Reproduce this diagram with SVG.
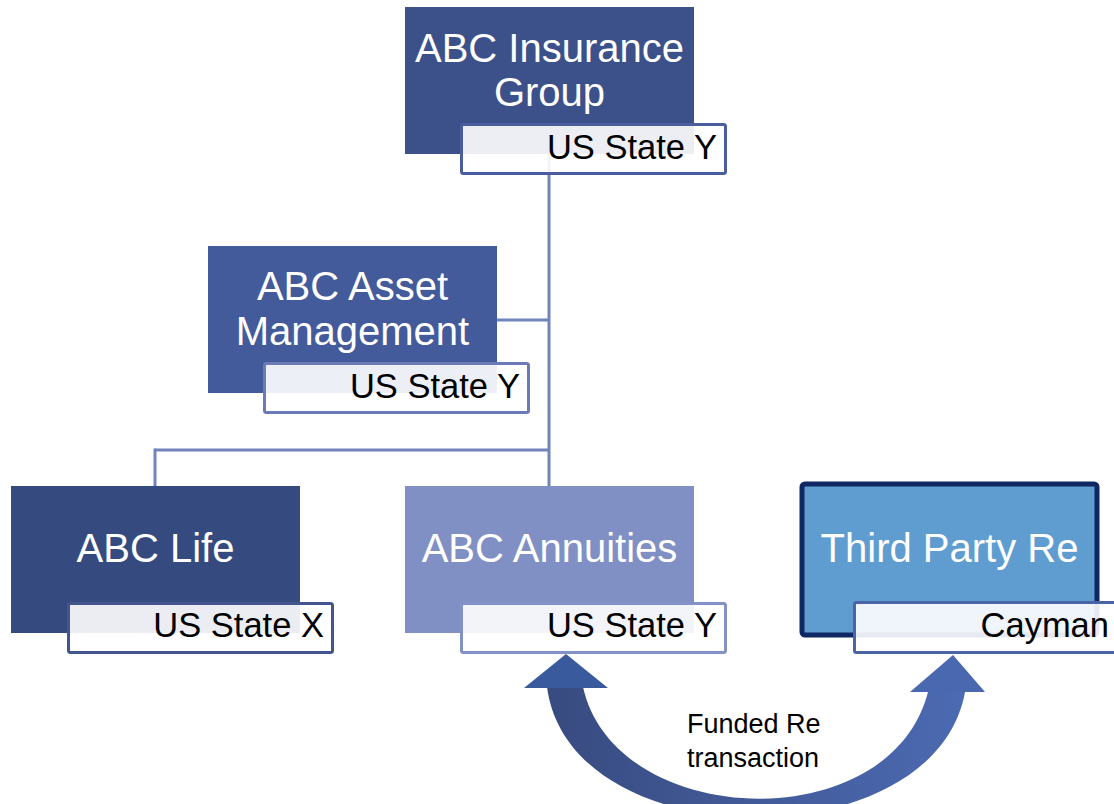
<svg xmlns="http://www.w3.org/2000/svg" width="1114" height="804" viewBox="0 0 1114 804">
<style>
.title{font-family:"Liberation Sans",Arial,sans-serif;font-size:40px;fill:#ffffff;text-anchor:middle}
.sub{font-family:"Liberation Sans",Arial,sans-serif;font-size:34.5px;fill:#000000;text-anchor:end}
.lbl{fill:#ffffff;fill-opacity:0.9;stroke-width:3}
.conn{stroke:#7383BB;stroke-width:3;fill:none}
.note{font-family:"Liberation Sans",Arial,sans-serif;font-size:27px;fill:#000000}
</style>
<defs>
<linearGradient id="arc" x1="0" y1="0" x2="1" y2="0">
<stop offset="0" stop-color="#384B80"/>
<stop offset="1" stop-color="#4C6AB2"/>
</linearGradient>
</defs>
<g id="connectors">
<line class="conn" x1="549" y1="154" x2="549" y2="486"/>
<line class="conn" x1="497" y1="320" x2="549" y2="320"/>
<line class="conn" x1="155" y1="450" x2="550" y2="450"/>
<line class="conn" x1="155" y1="448.5" x2="155" y2="486"/>
</g>
<g id="funded-re">
<path d="M 547 687 C 570 860, 935 860, 965 692 L 928 692 C 890 840, 615 830, 583 687 Z" fill="url(#arc)"/>
<polygon points="566,654 524,688 608,688" fill="#395A9C"/>
<polygon points="953,655 910,692 985,692" fill="#4A68B0"/>
<text class="note" x="687" y="733">Funded Re</text>
<text class="note" x="687" y="767">transaction</text>
</g>
<g id="abc-insurance-group">
<rect x="405" y="7" width="289" height="147" fill="#3C5189"/>
<rect class="lbl" x="461.5" y="124.5" width="264" height="49" rx="2" stroke="#4A5E9F"/>
<text class="title" x="549.5" y="62">ABC Insurance</text>
<text class="title" x="549.5" y="106">Group</text>
<text class="sub" x="717" y="159">US State Y</text>
</g>
<g id="abc-asset-management">
<rect x="208" y="246" width="289" height="147" fill="#435A9B"/>
<rect class="lbl" x="264.5" y="363.5" width="264" height="49" rx="2" stroke="#6A7BB8"/>
<text class="title" x="352.5" y="300">ABC Asset</text>
<text class="title" x="352.5" y="345">Management</text>
<text class="sub" x="520" y="398">US State Y</text>
</g>
<g id="abc-life">
<rect x="11" y="486" width="289" height="147" fill="#354A7F"/>
<rect class="lbl" x="68.5" y="603.5" width="264" height="49" rx="2" stroke="#43558E"/>
<text class="title" x="155.5" y="562">ABC Life</text>
<text class="sub" x="324" y="637">US State X</text>
</g>
<g id="abc-annuities">
<rect x="405" y="486" width="289" height="147" fill="#8190C4"/>
<rect class="lbl" x="461.5" y="603.5" width="264" height="49" rx="2" stroke="#8291C6"/>
<text class="title" x="549.5" y="562">ABC Annuities</text>
<text class="sub" x="717" y="637">US State Y</text>
</g>
<g id="third-party-re">
<rect x="802" y="484" width="295" height="151" rx="3" fill="#5F9DD1" stroke="#0F2763" stroke-width="5"/>
<rect class="lbl" x="854.5" y="602.5" width="270" height="50" rx="2" stroke="#4A64A6"/>
<text class="title" x="949.5" y="562">Third Party Re</text>
<text class="sub" x="1109" y="637">Cayman</text>
</g>
</svg>
